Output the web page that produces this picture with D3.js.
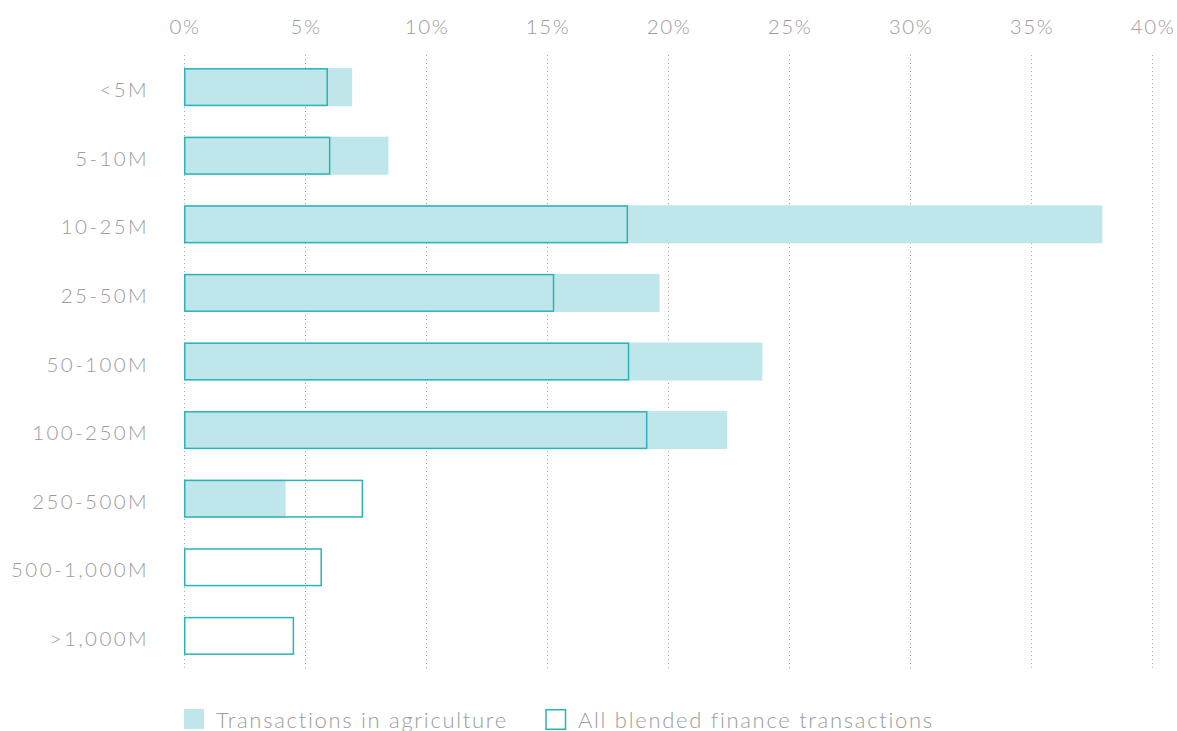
<!DOCTYPE html>
<html>
<head>
<meta charset="utf-8">
<script src="https://cdn.jsdelivr.net/npm/d3@7"></script>
<style>
  body { margin: 0; background: #fff; }
  svg text { font-family: Lato, "Open Sans", sans-serif; font-weight: 300; fill: #9c9c9c; }
</style>
</head>
<body>
<svg id="chart" width="1177" height="731"></svg>
<script>
const categories = ['<5M', '5-10M', '10-25M', '25-50M', '50-100M', '100-250M', '250-500M', '500-1,000M', '>1,000M'];
// share of transactions (%) by deal size
const agriculture = [6.95, 8.45, 37.95, 19.65, 23.9, 22.45, 4.2, 0, 0];
const allBlended = [5.95, 6.05, 18.35, 15.3, 18.4, 19.15, 7.4, 5.7, 4.55];
const ticks = [0, 5, 10, 15, 20, 25, 30, 35, 40];
const legendLabels = ['Transactions in agriculture', 'All blended finance transactions'];

const fillColor = '#bfe7eb';
const strokeColor = '#2bb3b8';

const svg = d3.select('#chart');
const margin = { top: 53, right: 25, bottom: 64, left: 184 };

const x = d3.scaleLinear().domain([0, 40]).range([margin.left, 1152]);
const y = d3.scaleBand().domain(categories).range([margin.top, 670]).paddingInner(0.445).paddingOuter(0.22);

// dotted gridlines
svg.append('g').selectAll('line').data(ticks).enter().append('line')
  .attr('x1', d => x(d) + 0.5).attr('x2', d => x(d) + 0.5)
  .attr('y1', 55).attr('y2', 668)
  .attr('stroke', '#aaa').attr('stroke-width', 1)
  .attr('stroke-dasharray', '1,3');

// top tick labels
svg.append('g').selectAll('text').data(ticks).enter().append('text')
  .attr('x', d => x(d) + 1).attr('y', 34)
  .attr('text-anchor', 'middle')
  .attr('font-size', 20.5).attr('letter-spacing', 1.6)
  .text(d => d + '%');

// category labels
svg.append('g').selectAll('text').data(categories).enter().append('text')
  .attr('x', 149).attr('y', d => y(d) + y.bandwidth() / 2 + 10)
  .attr('text-anchor', 'end')
  .attr('font-size', 20.5).attr('letter-spacing', 2.4)
  .text(d => d);

// agriculture bars (filled)
svg.append('g').selectAll('rect').data(categories).enter().append('rect')
  .attr('x', x(0)).attr('y', d => y(d))
  .attr('width', (d, i) => x(agriculture[i]) - x(0))
  .attr('height', y.bandwidth())
  .attr('fill', fillColor);

// all blended finance bars (outline)
svg.append('g').selectAll('rect').data(categories).enter().append('rect')
  .attr('x', x(0) + 0.75).attr('y', d => y(d) + 0.75)
  .attr('width', (d, i) => x(allBlended[i]) - x(0) - 1.5)
  .attr('height', y.bandwidth() - 1.5)
  .attr('fill', 'none')
  .attr('stroke', strokeColor).attr('stroke-width', 1.5);

// legend
const legend = svg.append('g').attr('transform', 'translate(184,709)');
legend.append('rect').attr('width', 20).attr('height', 20).attr('fill', fillColor);
legend.append('text').attr('x', 32).attr('y', 18.5).attr('font-size', 22).attr('letter-spacing', 1.7).text(legendLabels[0]);
legend.append('rect').attr('x', 362).attr('y', 0.75).attr('width', 19.5).attr('height', 19.5)
  .attr('fill', 'none').attr('stroke', strokeColor).attr('stroke-width', 1.5);
legend.append('text').attr('x', 394).attr('y', 18.5).attr('font-size', 22).attr('letter-spacing', 1.7).text(legendLabels[1]);
</script>
</body>
</html>
